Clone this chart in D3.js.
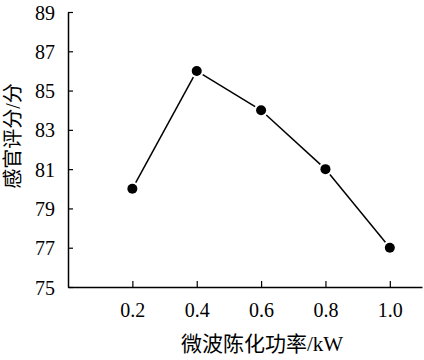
<!DOCTYPE html>
<html><head><meta charset="utf-8">
<script src="https://cdn.jsdelivr.net/npm/d3@7"></script>
<style>
body{margin:0;background:#fff;}
text{font-family:"Liberation Serif","Noto Sans CJK SC",serif;fill:#000;}
</style></head>
<body><svg id="c" width="424" height="360"></svg>
<script>
const powers = [0.2, 0.4, 0.6, 0.8, 1.0];
const scores = [80, 86, 84, 81, 77];
const xTicks = [0.2, 0.4, 0.6, 0.8, 1.0];
const yTicks = [75, 77, 79, 81, 83, 85, 87, 89];
const xTitle = "微波陈化功率/kW";
const yTitle = "感官评分/分";

const svg = d3.select("#c");
const x = d3.scaleLinear().domain([0, 1.1]).range([68, 422]);
const y = d3.scaleLinear().domain([75, 89]).range([287, 12]);

const xAxis = svg.append("g").attr("transform", `translate(0,${y(75)})`)
  .call(d3.axisBottom(x).tickValues(xTicks).tickSize(-6).tickPadding(16).tickFormat(d3.format(".1f")).tickSizeOuter(0));
const yAxis = svg.append("g").attr("transform", `translate(${x(0)},0)`)
  .call(d3.axisLeft(y).tickValues(yTicks).tickSize(-5).tickPadding(13).tickFormat(d3.format("d")).tickSizeOuter(0));
[xAxis, yAxis].forEach(g => {
  g.select(".domain").attr("stroke", "#000").attr("stroke-width", 1.5);
  g.selectAll(".tick line").attr("stroke", "#000").attr("stroke-width", 1.2);
  g.selectAll(".tick text").attr("font-size", 20).attr("font-family", "Liberation Serif");
});
yAxis.selectAll(".tick text").attr("dy", "0.35em");

const pts = powers.map((p, i) => [x(p), y(scores[i])]);
const gap = 7;
for (let i = 0; i < pts.length - 1; i++) {
  const [x1, y1] = pts[i], [x2, y2] = pts[i + 1];
  const dx = x2 - x1, dy = y2 - y1, L = Math.hypot(dx, dy);
  svg.append("line")
    .attr("x1", x1 + dx / L * gap).attr("y1", y1 + dy / L * gap)
    .attr("x2", x2 - dx / L * gap).attr("y2", y2 - dy / L * gap)
    .attr("stroke", "#000").attr("stroke-width", 1.5);
}
svg.selectAll("circle.pt").data(powers).join("circle").attr("class", "pt")
  .attr("cx", d => x(d)).attr("cy", (d, i) => y(scores[i])).attr("r", 5).attr("fill", "#000");

svg.append("text").attr("x", 262).attr("y", 351).attr("text-anchor", "middle")
  .attr("font-size", 21).text(xTitle);
svg.append("text").attr("transform", "translate(20,136) rotate(-90)").attr("text-anchor", "middle")
  .attr("font-size", 20).text(yTitle);
</script></body></html>
